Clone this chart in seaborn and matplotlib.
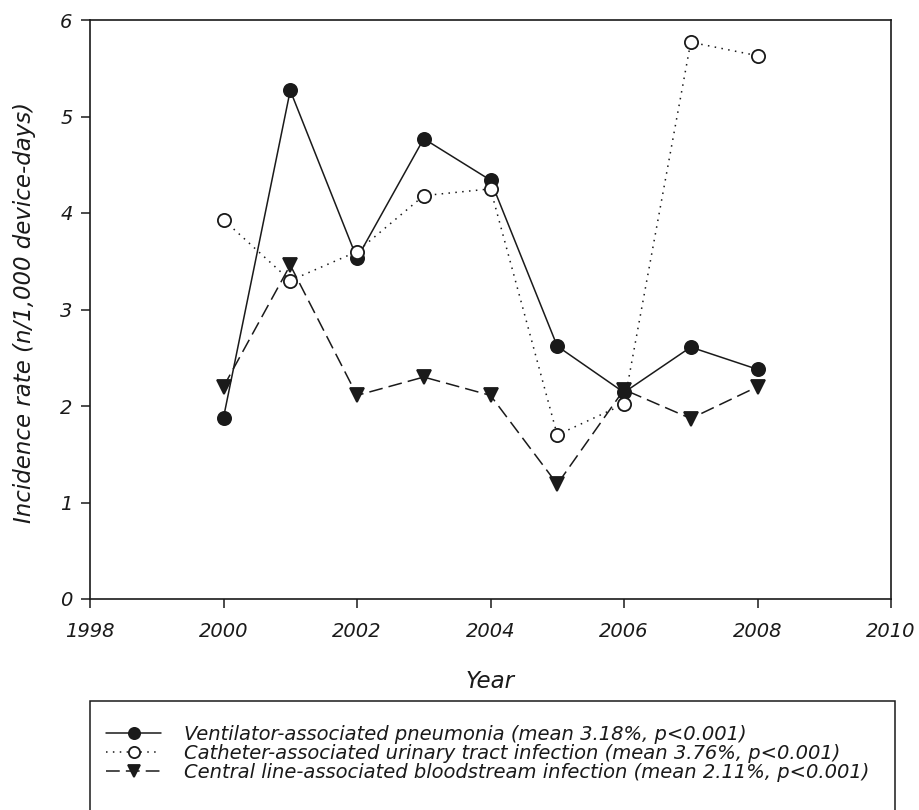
"""
Device-associated infection incidence rates by year.
"""

import matplotlib.pyplot as plt
import pandas as pd
import seaborn as sns
from matplotlib.patches import Rectangle

years = [2000, 2001, 2002, 2003, 2004, 2005, 2006, 2007, 2008]
vap = [1.88, 5.27, 3.53, 4.77, 4.34, 2.62, 2.14, 2.61, 2.38]
cauti = [3.93, 3.30, 3.60, 4.18, 4.25, 1.70, 2.02, 5.77, 5.63]
clabsi = [2.20, 3.46, 2.11, 2.30, 2.11, 1.19, 2.17, 1.87, 2.20]

labels = [
    "Ventilator-associated pneumonia (mean 3.18%, p<0.001)",
    "Catheter-associated urinary tract infection (mean 3.76%, p<0.001)",
    "Central line-associated bloodstream infection (mean 2.11%, p<0.001)",
]
x_ticks = [1998, 2000, 2002, 2004, 2006, 2008, 2010]
y_ticks = [0, 1, 2, 3, 4, 5, 6]

INK = "#1a1a1a"

sns.set_style("ticks")
plt.rcParams["font.family"] = ["DejaVu Sans"]
plt.rcParams["font.style"] = "italic"

df = pd.DataFrame({"year": years, "vap": vap, "cauti": cauti, "clabsi": clabsi})

fig = plt.figure(figsize=(9.19, 8.10), dpi=100)
W, H = 919, 810
ax = fig.add_axes([90 / W, 1 - 599 / H, 801 / W, 579 / H])

styles = [
    ("vap", labels[0], "-", "o", INK),
    ("cauti", labels[1], (0, (1, 3.5)), "o", "white"),
    ("clabsi", labels[2], (0, (9, 4)), "v", INK),
]
for col, lab, ls, mk, fc in styles:
    sns.lineplot(
        data=df, x="year", y=col, ax=ax, label=lab,
        color=INK, linestyle=ls, linewidth=1.1,
        marker=mk, markersize=9.5, markerfacecolor=fc,
        markeredgecolor=INK, markeredgewidth=1.3,
    )

ax.set_xlim(1998, 2010)
ax.set_ylim(0, 6)
ax.set_xticks(x_ticks)
ax.set_yticks(y_ticks)
ax.tick_params(direction="out", length=6.5, width=1.1, labelsize=14, colors=INK)
ax.tick_params(axis="x", pad=10)
ax.tick_params(axis="y", pad=6)
for lbl in ax.get_xticklabels() + ax.get_yticklabels():
    lbl.set_fontstyle("italic")
for side in ["top", "right", "bottom", "left"]:
    ax.spines[side].set_visible(True)
    ax.spines[side].set_color(INK)
    ax.spines[side].set_linewidth(1.2)

ax.set_xlabel("Year", fontsize=16.5, fontstyle="italic", color=INK)
ax.set_ylabel("Incidence rate (n/1,000 device-days)", fontsize=16.5,
              fontstyle="italic", color=INK)
ax.xaxis.set_label_coords(0.5, (599 - 682) / 579, transform=ax.transAxes)
ax.yaxis.set_label_coords((25 - 90) / 801, 0.495, transform=ax.transAxes)
ax.xaxis.label.set_va("center")
ax.yaxis.label.set_va("center")

handles, leg_labels = ax.get_legend_handles_labels()
ax.get_legend().remove()
leg = fig.legend(
    handles, leg_labels,
    loc="upper left", bbox_to_anchor=(106 / W, 1 - 725 / H),
    frameon=False, borderpad=0, borderaxespad=0, markerscale=0.85,
    handlelength=2.85, labelspacing=0.0, handletextpad=1.15,
    prop={"style": "italic", "size": 14},
)
for t in leg.get_texts():
    t.set_color(INK)

# legend box runs past the bottom edge of the figure
fig.patches.append(Rectangle(
    (90 / W, -0.05), 805 / W, (1 - 701 / H) + 0.05,
    transform=fig.transFigure, fill=False, edgecolor=INK, linewidth=1.1,
))

plt.savefig("out.png", dpi=100)
plt.close()
